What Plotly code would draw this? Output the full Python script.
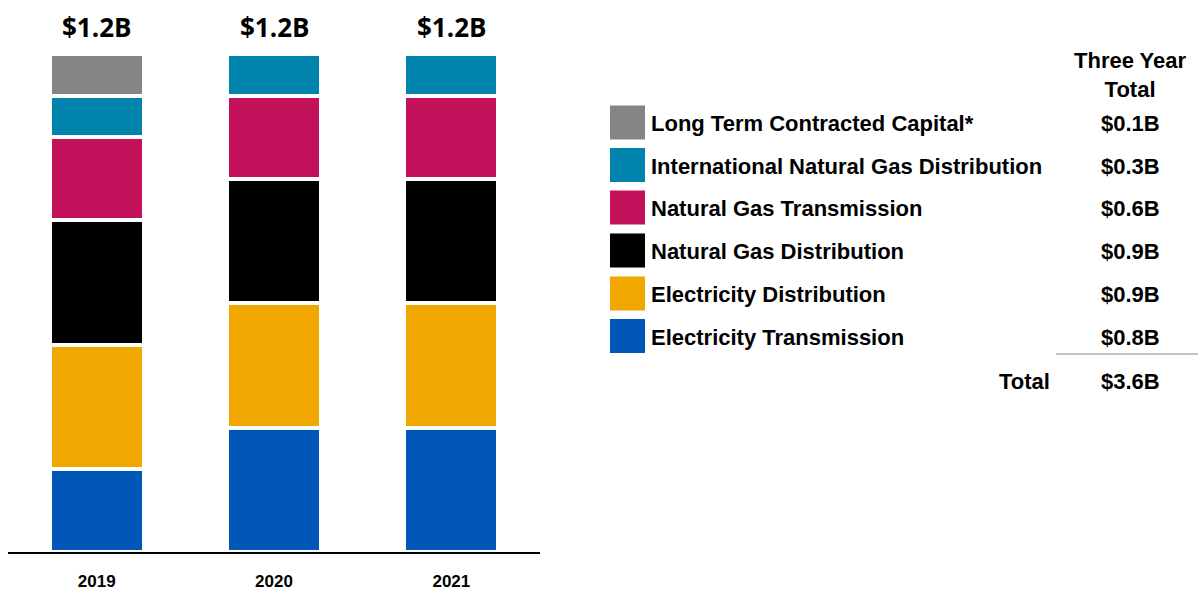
import plotly.graph_objects as go

years = ["2019", "2020", "2021"]

# Capital spend by segment, $B (stacked bottom to top)
electricity_transmission = [0.2, 0.3, 0.3]
electricity_distribution = [0.3, 0.3, 0.3]
natural_gas_distribution = [0.3, 0.3, 0.3]
natural_gas_transmission = [0.2, 0.2, 0.2]
intl_natural_gas_distribution = [0.1, 0.1, 0.1]
long_term_contracted_capital = [0.1, 0.0, 0.0]

segments = [
    ("Electricity Transmission", electricity_transmission, "#0057B8"),
    ("Electricity Distribution", electricity_distribution, "#F0A800"),
    ("Natural Gas Distribution", natural_gas_distribution, "#000000"),
    ("Natural Gas Transmission", natural_gas_transmission, "#C2105A"),
    ("International Natural Gas Distribution", intl_natural_gas_distribution, "#0083AD"),
    ("Long Term Contracted Capital*", long_term_contracted_capital, "#858585"),
]

W, H = 1198, 590


def px(x):
    return x / W


def py(y):
    return 1 - y / H


fig = go.Figure()
for name, vals, color in segments:
    fig.add_trace(go.Bar(
        x=years, y=vals, name=name,
        marker=dict(color=color, line=dict(color="white", width=4)),
        width=0.53, showlegend=False,
    ))

annotations = []
shapes = []

# Yearly totals above each bar (category index positions)
totals = [round(sum(v[i] for _, v, _ in segments), 1) for i in range(len(years))]
for i, t in enumerate(totals):
    annotations.append(dict(
        x=i, y=t, xref="x", yref="y", text=f"<b>${t:.1f}B</b>",
        showarrow=False, yanchor="bottom", yshift=7,
        font=dict(family="Open Sans", size=26, color="#000"),
    ))

# Side table: colour key, segment names and three-year totals
label_font = dict(family="Liberation Sans, Arial", size=22, color="#000")
row_y = [122.5, 165, 207.5, 250.5, 293.5, 336]
value_x = 1130
for (name, vals, color), yc in zip(reversed(segments), row_y):
    shapes.append(dict(
        type="rect", xref="paper", yref="paper",
        x0=px(610), x1=px(645), y0=py(yc - 17), y1=py(yc + 17),
        fillcolor=color, line=dict(width=0),
    ))
    annotations.append(dict(
        x=px(649), y=py(yc + 1), xref="paper", yref="paper", text=f"<b>{name}</b>",
        showarrow=False, xanchor="left", yanchor="middle", font=label_font,
    ))
    annotations.append(dict(
        x=px(value_x), y=py(yc + 1), xref="paper", yref="paper",
        text=f"<b>${sum(vals):.1f}B</b>",
        showarrow=False, xanchor="center", yanchor="middle", font=label_font,
    ))

annotations.append(dict(
    x=px(1130), y=py(75), xref="paper", yref="paper",
    text="<b>Three Year</b><br><b>Total</b>",
    showarrow=False, xanchor="center", yanchor="middle", font=label_font,
))
grand_total = sum(sum(v) for _, v, _ in segments)
annotations.append(dict(
    x=px(1052), y=py(381), xref="paper", yref="paper", text="<b>Total</b>",
    showarrow=False, xanchor="right", yanchor="middle", font=label_font,
))
annotations.append(dict(
    x=px(value_x), y=py(381), xref="paper", yref="paper",
    text=f"<b>${grand_total:.1f}B</b>",
    showarrow=False, xanchor="center", yanchor="middle", font=label_font,
))
shapes.append(dict(
    type="line", xref="paper", yref="paper",
    x0=px(1056), x1=px(1198), y0=py(354), y1=py(354),
    line=dict(color="#8c8c8c", width=1.2),
))

fig.update_layout(
    width=W, height=H,
    margin=dict(l=0, r=0, t=0, b=0),
    paper_bgcolor="white", plot_bgcolor="white",
    barmode="stack",
    annotations=annotations, shapes=shapes,
    xaxis=dict(
        type="category", automargin=False,
        domain=[px(8), px(540)], range=[-0.5, 2.5],
        showgrid=False, showline=True, linecolor="#000", linewidth=2,
        ticks="", tickfont=dict(family="Liberation Sans, Arial", size=17, color="#000"),
        tickprefix="<b>", ticksuffix="</b>", ticklabelstandoff=13,
    ),
    yaxis=dict(
        automargin=False,
        domain=[py(552), py(54)], range=[0, 1.2],
        showgrid=False, showticklabels=False, zeroline=False, showline=False,
    ),
)

fig.write_html("out.html")
